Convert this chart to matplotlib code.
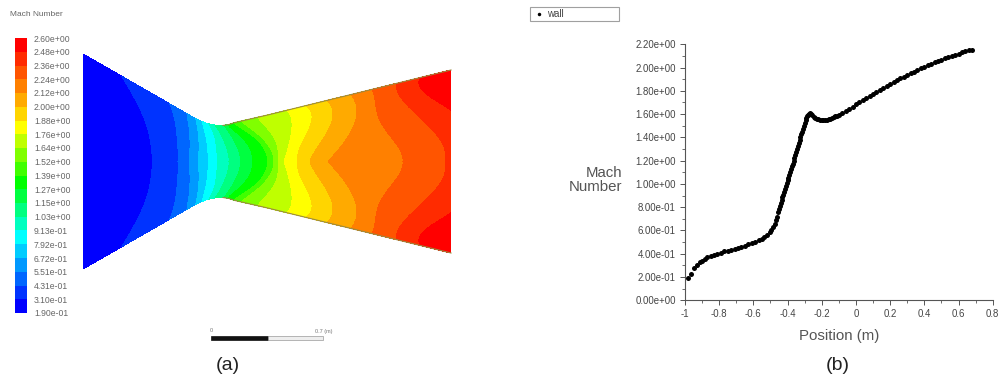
import numpy as np
import matplotlib
matplotlib.use("Agg")
import matplotlib.pyplot as plt
from matplotlib.colors import ListedColormap, BoundaryNorm
from matplotlib.lines import Line2D
from matplotlib.patches import Rectangle
from matplotlib.ticker import FormatStrFormatter, MultipleLocator

plt.rcParams['font.family'] = ['Liberation Sans', 'DejaVu Sans']

# contour legend
mach_levels = [0.19, 0.31, 0.431, 0.551, 0.672, 0.792, 0.913, 1.03, 1.15, 1.27, 1.39,
               1.52, 1.64, 1.76, 1.88, 2.00, 2.12, 2.24, 2.36, 2.48, 2.60]
level_labels = ['1.90e-01', '3.10e-01', '4.31e-01', '5.51e-01', '6.72e-01', '7.92e-01', '9.13e-01',
                '1.03e+00', '1.15e+00', '1.27e+00', '1.39e+00', '1.52e+00', '1.64e+00', '1.76e+00',
                '1.88e+00', '2.00e+00', '2.12e+00', '2.24e+00', '2.36e+00', '2.48e+00', '2.60e+00']
band_colors = ['#0000ff', '#0033ff', '#0066ff', '#0099ff', '#00ccff', '#00ffff', '#00ffbf',
               '#00ff80', '#00ff40', '#00ff00', '#40ff00', '#80ff00', '#bfff00', '#ffff00',
               '#ffd500', '#ffaa00', '#ff8000', '#ff5500', '#ff2b00', '#ff0000']

# nozzle outline (pixels)
nozzle_x = [83, 190, 196, 203, 208, 213, 218, 223, 229, 235, 268, 451]
nozzle_h = [107.5, 46, 42.5, 39.5, 37.8, 36.7, 36.1, 36, 37, 39, 46.6, 91.5]
nozzle_yc = 161.5

# where each contour level sits along the nozzle, at 5 heights (0 = axis, 1 = wall)
eta_rows = [0, 0.25, 0.5, 0.75, 1.0]
level_x = [
    [60, 60, 60, 60, 60],
    [153, 151, 147, 138, 122],
    [178, 178, 177, 175, 170],
    [190, 190, 190, 189, 187],
    [199, 199, 199, 198, 196],
    [208, 208, 207, 205, 202],
    [218, 217, 216, 214, 209],
    [229, 228, 225, 221, 215],
    [240, 239, 235, 230, 224],
    [253, 251, 245, 236, 228],
    [268, 265, 257, 245, 234],
    [274, 271, 263, 252, 241],
    [279, 278, 274, 266, 258],
    [284, 288, 291, 292, 287],
    [298, 300, 307, 312, 306],
    [310, 318, 328, 333, 327],
    [328, 342, 353, 357, 351],
    [403, 395, 382, 376, 372],
    [445, 440, 422, 404, 396],
    [490, 480, 458, 430, 420],
    [520, 520, 520, 520, 520],
]

# wall curve of panel (b)
position = [-0.985, -0.965, -0.95, -0.93, -0.915, -0.90, -0.885, -0.87, -0.85, -0.83, -0.81, -0.79,
            -0.77, -0.75, -0.73, -0.71, -0.69, -0.67, -0.65, -0.63, -0.61, -0.59, -0.57, -0.55,
            -0.535, -0.52, -0.505, -0.495, -0.485, -0.475, -0.468, -0.46, -0.455, -0.45, -0.445,
            -0.44, -0.435, -0.43, -0.425, -0.42, -0.415, -0.41, -0.405, -0.40, -0.395, -0.39,
            -0.385, -0.38, -0.375, -0.37, -0.365, -0.36, -0.355, -0.35, -0.345, -0.34, -0.335,
            -0.33, -0.325, -0.32, -0.315, -0.31, -0.305, -0.30, -0.295, -0.29, -0.285, -0.28,
            -0.275, -0.27, -0.262, -0.255, -0.247, -0.24, -0.23, -0.22, -0.21, -0.20, -0.19,
            -0.18, -0.17, -0.16, -0.15, -0.14, -0.13, -0.12, -0.11, -0.10, -0.08, -0.06, -0.04,
            -0.02, 0.0, 0.02, 0.04, 0.06, 0.08, 0.10, 0.12, 0.14, 0.16, 0.18, 0.20, 0.22, 0.24,
            0.26, 0.28, 0.30, 0.32, 0.34, 0.36, 0.38, 0.40, 0.42, 0.44, 0.46, 0.48, 0.50, 0.52,
            0.54, 0.56, 0.58, 0.60, 0.62, 0.64, 0.66, 0.68]
mach = [0.195, 0.225, 0.275, 0.305, 0.325, 0.34, 0.355, 0.37, 0.38, 0.39, 0.40, 0.41,
        0.42, 0.427, 0.435, 0.443, 0.452, 0.46, 0.47, 0.48, 0.49, 0.502, 0.515, 0.53,
        0.545, 0.565, 0.585, 0.605, 0.63, 0.655, 0.69, 0.72, 0.755, 0.785, 0.81,
        0.835, 0.86, 0.885, 0.905, 0.93, 0.955, 0.98, 1.005, 1.03, 1.055, 1.08,
        1.10, 1.125, 1.15, 1.175, 1.20, 1.225, 1.25, 1.275, 1.30, 1.325, 1.35,
        1.375, 1.40, 1.425, 1.45, 1.475, 1.50, 1.525, 1.55, 1.57, 1.585, 1.595,
        1.603, 1.607, 1.60, 1.59, 1.578, 1.568, 1.56, 1.555, 1.552, 1.55, 1.55,
        1.55, 1.552, 1.555, 1.56, 1.565, 1.572, 1.58, 1.588, 1.595, 1.612, 1.63, 1.648,
        1.665, 1.683, 1.702, 1.72, 1.74, 1.758, 1.776, 1.794, 1.811, 1.828, 1.845, 1.861, 1.877, 1.893,
        1.908, 1.923, 1.938, 1.952, 1.966, 1.98, 1.994, 2.007, 2.02, 2.033, 2.045, 2.057, 2.068, 2.079,
        2.09, 2.10, 2.11, 2.12, 2.13, 2.139, 2.148, 2.155]
x_tick_vals = [-1, -0.8, -0.6, -0.4, -0.2, 0, 0.2, 0.4, 0.6, 0.8]
x_tick_labels = ['-1', '-0.8', '-0.6', '-0.4', '-0.2', '0', '0.2', '0.4', '0.6', '0.8']

grey = '#555555'
fig = plt.figure(figsize=(10, 3.8), dpi=100)

# panel (a), axes in pixel units of the figure
ax = fig.add_axes([0, 0, 1, 1])
ax.set_xlim(0, 1000)
ax.set_ylim(380, 0)
ax.axis('off')

xs = np.linspace(nozzle_x[0], nozzle_x[-1], 900)
etas = np.linspace(-1, 1, 401)
X, E = np.meshgrid(xs, etas)
half = np.interp(X, nozzle_x, nozzle_h)
Y = nozzle_yc + E * half
# smooth curve through the 5 readings of each level so the contours come out round
coefs = [np.polyfit(eta_rows, row, 4) for row in level_x]
Z = np.zeros_like(X)
for i, e in enumerate(etas):
    bounds = np.sort([np.polyval(c, abs(e)) for c in coefs])
    Z[i, :] = np.interp(xs, bounds, mach_levels)

cmap = ListedColormap(band_colors)
norm = BoundaryNorm(mach_levels, cmap.N)
cs = ax.contourf(X, Y, Z, levels=mach_levels, cmap=cmap, norm=norm)

# thin dark edge on the diverging wall
wx = np.array(nozzle_x[7:])
wh = np.array(nozzle_h[7:])
ax.plot(wx, nozzle_yc - wh, color='#9a8a40', lw=0.8)
ax.plot(wx, nozzle_yc + wh, color='#9a8a40', lw=0.8)

cax = fig.add_axes([0.015, 1 - 313 / 380, 0.012, 275 / 380])
cb = fig.colorbar(cs, cax=cax, ticks=mach_levels, spacing='uniform')
cb.ax.set_yticklabels(level_labels)
cb.ax.tick_params(length=0, pad=5, labelsize=6.2, labelcolor='#666666')
cb.outline.set_visible(False)

ax.text(10, 14, 'Mach Number', fontsize=6, color='#666666', va='center')

# scale bar
ax.add_patch(Rectangle((211, 336), 57, 4, fc='#111111', ec='#111111', lw=0.5))
ax.add_patch(Rectangle((268, 336), 55, 4, fc='#eeeeee', ec='#999999', lw=0.5))
ax.text(211, 331, '0', fontsize=4, color='#777777', ha='center', va='center')
ax.text(324, 331, '0.7 (m)', fontsize=4, color='#777777', ha='center', va='center')

ax.text(228, 365, '(a)', fontsize=14, color='#222222', ha='center', va='center')
ax.text(838, 365, '(b)', fontsize=14, color='#222222', ha='center', va='center')

# panel (b)
ax2 = fig.add_axes([0.685, 1 - 300.3 / 380, 0.3077, 256 / 380])
ax2.patch.set_alpha(0)
wall_line, = ax2.plot(position, mach, 'o', color='black', ms=3.6, mew=0, label='wall')
wall_line.set_snap(False)
ax2.set_xlim(-1, 0.8)
ax2.set_ylim(0, 2.2)
ax2.spines['top'].set_visible(False)
ax2.spines['right'].set_visible(False)
ax2.spines['left'].set_color(grey)
ax2.spines['bottom'].set_color(grey)
ax2.set_xticks(x_tick_vals)
ax2.set_xticklabels(x_tick_labels)
ax2.yaxis.set_major_locator(MultipleLocator(0.2))
ax2.yaxis.set_minor_locator(MultipleLocator(0.1))
ax2.xaxis.set_minor_locator(MultipleLocator(0.1))
ax2.yaxis.set_major_formatter(FormatStrFormatter('%.2e'))
ax2.tick_params(which='major', length=3.5, width=0.7, color=grey, labelsize=6.9, labelcolor='#444444', pad=3)
ax2.tick_params(which='minor', length=2, width=0.6, color=grey)
ax2.set_xlabel('Position (m)', fontsize=10.8, color='#555555', labelpad=7)

ax.text(622, 180, 'Mach\nNumber', fontsize=10.8, color='#555555', ha='right', va='center', linespacing=0.95)

handle = Line2D([], [], marker='o', ls='none', color='black', ms=2.5, mew=0)
leg = fig.legend([handle], ['wall'], loc='lower left',
                 bbox_to_anchor=(0.530, 1 - 21 / 380, 0.089, 14 / 380), mode='expand',
                 borderaxespad=0, fontsize=7, frameon=True, fancybox=False,
                 edgecolor='#888888', borderpad=0.2, handletextpad=0.1, handlelength=1.5)
leg.get_frame().set_linewidth(0.8)
leg.get_texts()[0].set_color('#444444')

fig.savefig('out.png', dpi=100, facecolor='white')
plt.close()
